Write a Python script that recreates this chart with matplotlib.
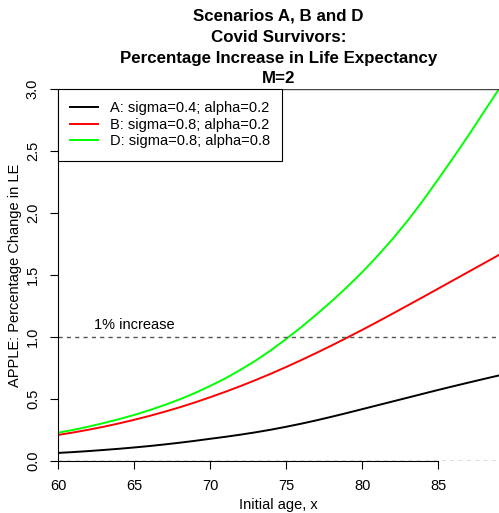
import matplotlib
matplotlib.use("Agg")
import matplotlib.pyplot as plt

plt.rcParams['font.family'] = ['Liberation Sans', 'DejaVu Sans']

# initial ages and APPLE values (percentage change in life expectancy)
ages = list(range(60, 90))
scen_a = [0.065, 0.072, 0.080, 0.089, 0.0985, 0.109, 0.1205, 0.1335, 0.1475, 0.1625,
          0.179, 0.195, 0.2125, 0.2315, 0.2525, 0.276, 0.301, 0.328, 0.357, 0.387,
          0.418, 0.449, 0.480, 0.511, 0.542, 0.573, 0.603, 0.6325, 0.6615, 0.690]
scen_b = [0.210, 0.230, 0.252, 0.276, 0.303, 0.332, 0.363, 0.397, 0.433, 0.472,
          0.514, 0.558, 0.604, 0.653, 0.704, 0.758, 0.814, 0.872, 0.932, 0.994,
          1.057, 1.122, 1.188, 1.255, 1.322, 1.390, 1.458, 1.526, 1.594, 1.662]
scen_d = [0.228, 0.251, 0.277, 0.306, 0.337, 0.371, 0.409, 0.451, 0.497, 0.548,
          0.605, 0.666, 0.735, 0.810, 0.893, 0.984, 1.080, 1.182, 1.289, 1.402,
          1.522, 1.652, 1.790, 1.939, 2.100, 2.272, 2.447, 2.627, 2.814, 3.000]
labels = ["A: sigma=0.4; alpha=0.2", "B: sigma=0.8; alpha=0.2", "D: sigma=0.8; alpha=0.8"]
colors = ["black", "#ff0000", "#00ff00"]
title_lines = ["Scenarios A, B and D", "Covid Survivors:",
               "Percentage Increase in Life Expectancy", "M=2"]

W, H = 499, 513
fig = plt.figure(figsize=(W / 100, H / 100), dpi=100)
ax = fig.add_axes([58 / W, 1 - 461 / H, 441 / W, 372 / H])

for ys, lab, col in zip([scen_a, scen_b, scen_d], labels, colors):
    ax.plot(ages, ys, color=col, lw=1.4, label=lab)

# reference lines
ax.axhline(1.0, color='#555555', lw=1.0, dashes=(3, 3))
ax.axhline(0.0, color='#555555', lw=1.0, dashes=(3, 3))
ax.axhline(3.0, color='#444444', lw=1.0)
ax.text(65, 1.04, "1% increase", ha='center', va='bottom', fontsize=10.5)

ax.set_xlim(60, 89)
ax.set_ylim(0, 3.0)
ax.set_xticks([60, 65, 70, 75, 80, 85])
ax.set_yticks([0, 0.5, 1.0, 1.5, 2.0, 2.5, 3.0])
ax.set_yticklabels(["%.1f" % v for v in ax.get_yticks()], rotation=90, va='center')
for s in ['top', 'right']:
    ax.spines[s].set_visible(False)
ax.spines['bottom'].set_bounds(60, 85)
ax.spines['left'].set_bounds(0, 3.0)
for s in ['bottom', 'left']:
    ax.spines[s].set_linewidth(0.8)
ax.tick_params(length=6, width=0.8, labelsize=10.5, pad=7)

ax.set_xlabel("Initial age, x", fontsize=10.5, va='center')
ax.xaxis.set_label_coords(0.5, -0.118)
ax.set_ylabel("APPLE: Percentage Change in LE", fontsize=10.5, va='center')
ax.yaxis.set_label_coords(-0.0975, 0.5)

leg = ax.legend(loc='upper left', bbox_to_anchor=(0, 1), borderaxespad=0,
                fancybox=False, edgecolor='black', framealpha=1, fontsize=10.5,
                handlelength=1.9, handletextpad=0.8, borderpad=0.85, labelspacing=0.17)
leg.get_frame().set_linewidth(0.8)

# four-line bold title centred over the plot region
title_y = [16, 37, 58, 79]
for line, yp in zip(title_lines, title_y):
    fig.text((58 + 499) / 2 / W, 1 - yp / H, line, ha='center', va='center',
             fontsize=12.2, fontweight='bold')

fig.savefig("out.png", dpi=100)
